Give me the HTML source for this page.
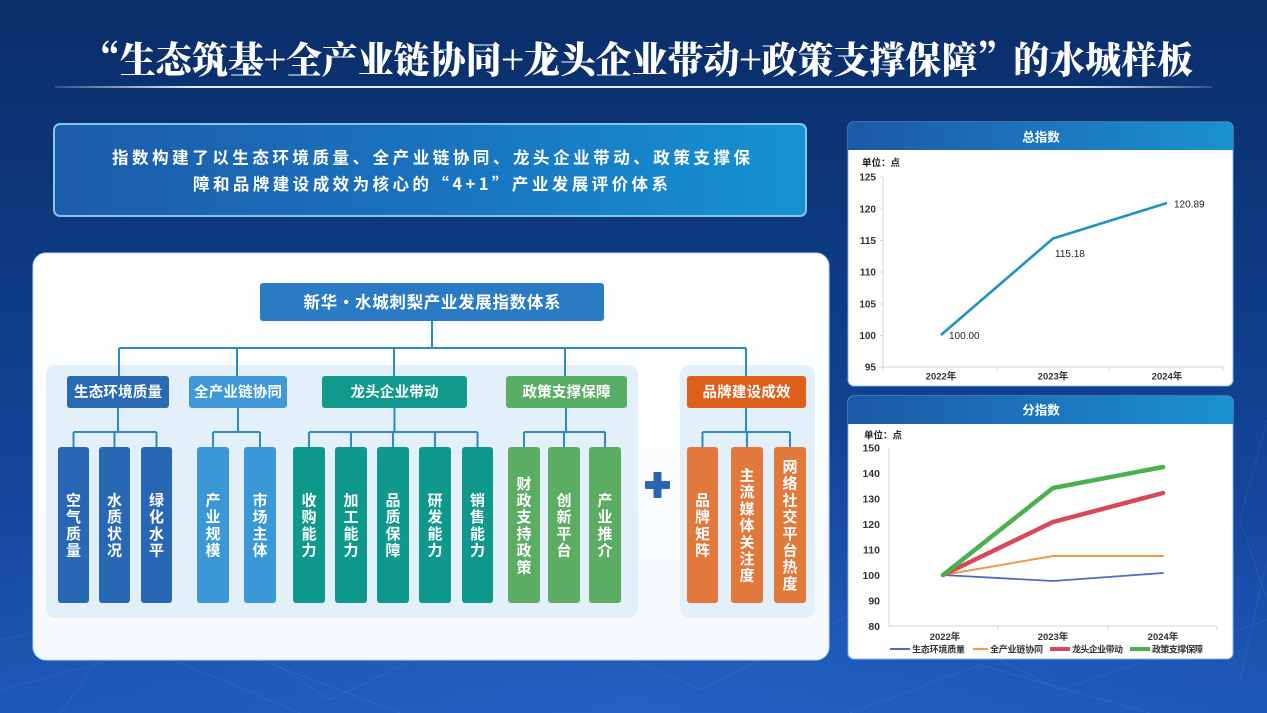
<!DOCTYPE html>
<html><head><meta charset="utf-8">
<style>
html,body{margin:0;padding:0;width:1267px;height:713px;overflow:hidden;background:#0c2f6c;}
svg{display:block;}
.sans{font-family:"Liberation Sans","Noto Sans CJK SC",sans-serif;}
.cjk{font-family:"Noto Sans CJK SC","Liberation Sans",sans-serif;}
.serif{font-family:"Noto Serif CJK SC","Liberation Serif",serif;}
</style></head>
<body>
<svg width="1267" height="713" viewBox="0 0 1267 713" xmlns="http://www.w3.org/2000/svg">
<defs>
<linearGradient id="bg" x1="0" y1="0" x2="0" y2="1">
<stop offset="0" stop-color="#0b2d68"/>
<stop offset="0.35" stop-color="#0d3a80"/>
<stop offset="0.75" stop-color="#1547a0"/>
<stop offset="1" stop-color="#1c55b2"/>
</linearGradient>
<radialGradient id="glow" cx="0.5" cy="1" r="0.7">
<stop offset="0" stop-color="#2a6ad0" stop-opacity="0.55"/>
<stop offset="1" stop-color="#2a6ad0" stop-opacity="0"/>
</radialGradient>
<linearGradient id="uline" x1="0" y1="0" x2="1" y2="0">
<stop offset="0" stop-color="#ffffff" stop-opacity="0.15"/>
<stop offset="0.12" stop-color="#e3f0ff" stop-opacity="1"/>
<stop offset="0.88" stop-color="#e3f0ff" stop-opacity="1"/>
<stop offset="1" stop-color="#ffffff" stop-opacity="0.15"/>
</linearGradient>
<linearGradient id="desc" x1="0" y1="0" x2="1" y2="0">
<stop offset="0" stop-color="#1d5cab"/>
<stop offset="0.5" stop-color="#1a72be"/>
<stop offset="1" stop-color="#1592d1"/>
</linearGradient>
<linearGradient id="hdr" x1="0" y1="0" x2="1" y2="0">
<stop offset="0" stop-color="#1c58a6"/>
<stop offset="1" stop-color="#1b92cf"/>
</linearGradient>
<linearGradient id="panel" x1="0" y1="0" x2="0" y2="1">
<stop offset="0" stop-color="#ffffff"/>
<stop offset="1" stop-color="#f6fafe"/>
</linearGradient>
</defs>

<!-- background -->
<rect x="0" y="0" width="1267" height="713" fill="url(#bg)"/>
<rect x="0" y="300" width="1267" height="413" fill="url(#glow)"/>
<g stroke="#8fc0ff" stroke-opacity="0.12" stroke-width="1" fill="none">
<path d="M0 640 L180 600 L330 700 L520 610 L700 690 L880 600 L1060 690 L1267 620"/>
<path d="M0 690 L150 650 L300 713"/>
<path d="M1267 420 L1240 520 L1267 600"/>
<path d="M60 713 L120 630 L260 660 L400 713"/>
<path d="M850 713 L980 665 L1150 713"/>
<path d="M1240 680 L1267 560"/>
</g>

<!-- title -->
<text class="serif" x="84" y="73" font-size="37" font-weight="900" fill="#ffffff" textLength="1109" lengthAdjust="spacingAndGlyphs">“生态筑基+全产业链协同+龙头企业带动+政策支撑保障”的水城样板</text>
<rect x="55" y="86" width="1157" height="2" fill="url(#uline)"/>

<!-- description box -->
<rect x="54" y="124" width="752" height="92" rx="6" fill="url(#desc)" stroke="#86c4f0" stroke-width="2"/>
<text class="cjk" x="112" y="163.5" font-size="16.5" font-weight="bold" fill="#ffffff" textLength="638" lengthAdjust="spacing">指数构建了以生态环境质量、全产业链协同、龙头企业带动、政策支撑保</text>
<text class="cjk" x="193" y="190" font-size="16.5" font-weight="bold" fill="#ffffff" textLength="475" lengthAdjust="spacing">障和品牌建设成效为核心的“4+1”产业发展评价体系</text>

<!-- main white panel -->
<rect x="33" y="253" width="796" height="407" rx="13" fill="url(#panel)" stroke="#b9d8f5" stroke-width="1"/>

<!-- group backgrounds -->
<rect x="46" y="365" width="592" height="253" rx="10" fill="#e3eff9"/>
<rect x="680" y="365" width="135" height="253" rx="10" fill="#e3eff9"/>

<!-- connectors -->
<g stroke="#2b89c6" stroke-width="2" fill="none">
<path d="M432 321 V348 M119 348 H746 M119 348 V376 M237 348 V376 M394 348 V376 M565 348 V376 M746 348 V376"/>
<path d="M118 408 V432 M73.5 432 H156.5 M73.5 432 V447 M114.5 432 V447 M156.5 432 V447"/>
<path d="M238 408 V432 M213 432 H260 M213 432 V447 M260 432 V447"/>
<path d="M394.5 408 V432 M309 432 H477.5 M309 432 V447 M351 432 V447 M393 432 V447 M435 432 V447 M477.5 432 V447"/>
<path d="M566 408 V432 M524 432 H605 M524 432 V447 M564 432 V447 M605 432 V447"/>
<path d="M746 408 V432 M702.5 432 H790 M702.5 432 V447 M747 432 V447 M790 432 V447"/>
</g>

<!-- root box -->
<rect x="260" y="283" width="344" height="38" rx="3" fill="#2b7bc4"/>
<text class="cjk" x="432" y="308" text-anchor="middle" font-size="16.5" font-weight="bold" fill="#ffffff" textLength="257" lengthAdjust="spacing">新华·水城刺梨产业发展指数体系</text>

<!-- category boxes -->
<g class="cjk" font-size="14.5" font-weight="bold" fill="#ffffff" text-anchor="middle">
<rect x="67" y="376" width="102" height="32" rx="3" fill="#2a69b3"/>
<text x="118" y="397" textLength="88" lengthAdjust="spacing">生态环境质量</text>
<rect x="189" y="376" width="98" height="32" rx="3" fill="#3f98d8"/>
<text x="238" y="397" textLength="88" lengthAdjust="spacing">全产业链协同</text>
<rect x="322" y="376" width="145" height="32" rx="3" fill="#11998c"/>
<text x="394.5" y="397" textLength="88" lengthAdjust="spacing">龙头企业带动</text>
<rect x="506" y="376" width="121" height="32" rx="3" fill="#5aad64"/>
<text x="566.5" y="397" textLength="88" lengthAdjust="spacing">政策支撑保障</text>
<rect x="687" y="376" width="119" height="32" rx="3" fill="#de5e1c"/>
<text x="746.5" y="397" textLength="88" lengthAdjust="spacing">品牌建设成效</text>
</g>

<!-- sub boxes -->
<g>
<rect x="58" y="447" width="31" height="156" rx="3" fill="#2867b4"/>
<rect x="99" y="447" width="31" height="156" rx="3" fill="#2867b4"/>
<rect x="141" y="447" width="31" height="156" rx="3" fill="#2867b4"/>
<rect x="197" y="447" width="32" height="156" rx="3" fill="#3b98d6"/>
<rect x="244" y="447" width="32" height="156" rx="3" fill="#3b98d6"/>
<rect x="293" y="447" width="32" height="156" rx="3" fill="#0e998c"/>
<rect x="335" y="447" width="32" height="156" rx="3" fill="#0e998c"/>
<rect x="377" y="447" width="32" height="156" rx="3" fill="#0e998c"/>
<rect x="419" y="447" width="32" height="156" rx="3" fill="#0e998c"/>
<rect x="462" y="447" width="31" height="156" rx="3" fill="#0e998c"/>
<rect x="508" y="447" width="32" height="156" rx="3" fill="#5cad63"/>
<rect x="548" y="447" width="32" height="156" rx="3" fill="#5cad63"/>
<rect x="589" y="447" width="32" height="156" rx="3" fill="#5cad63"/>
<rect x="687" y="447" width="31" height="156" rx="3" fill="#e2783c"/>
<rect x="731" y="447" width="32" height="156" rx="3" fill="#e2783c"/>
<rect x="774" y="447" width="32" height="156" rx="3" fill="#e2783c"/>
</g>
<g class="cjk" font-size="15" font-weight="bold" fill="#ffffff" text-anchor="middle">
<text x="73.5" y="505.5"><tspan x="73.5">空</tspan><tspan x="73.5" dy="16.7">气</tspan><tspan x="73.5" dy="16.7">质</tspan><tspan x="73.5" dy="16.7">量</tspan></text>
<text x="114.5" y="505.5"><tspan x="114.5">水</tspan><tspan x="114.5" dy="16.7">质</tspan><tspan x="114.5" dy="16.7">状</tspan><tspan x="114.5" dy="16.7">况</tspan></text>
<text x="156.5" y="505.5"><tspan x="156.5">绿</tspan><tspan x="156.5" dy="16.7">化</tspan><tspan x="156.5" dy="16.7">水</tspan><tspan x="156.5" dy="16.7">平</tspan></text>
<text x="213" y="505.5"><tspan x="213">产</tspan><tspan x="213" dy="16.7">业</tspan><tspan x="213" dy="16.7">规</tspan><tspan x="213" dy="16.7">模</tspan></text>
<text x="260" y="505.5"><tspan x="260">市</tspan><tspan x="260" dy="16.7">场</tspan><tspan x="260" dy="16.7">主</tspan><tspan x="260" dy="16.7">体</tspan></text>
<text x="309" y="505.5"><tspan x="309">收</tspan><tspan x="309" dy="16.7">购</tspan><tspan x="309" dy="16.7">能</tspan><tspan x="309" dy="16.7">力</tspan></text>
<text x="351" y="505.5"><tspan x="351">加</tspan><tspan x="351" dy="16.7">工</tspan><tspan x="351" dy="16.7">能</tspan><tspan x="351" dy="16.7">力</tspan></text>
<text x="393" y="505.5"><tspan x="393">品</tspan><tspan x="393" dy="16.7">质</tspan><tspan x="393" dy="16.7">保</tspan><tspan x="393" dy="16.7">障</tspan></text>
<text x="435" y="505.5"><tspan x="435">研</tspan><tspan x="435" dy="16.7">发</tspan><tspan x="435" dy="16.7">能</tspan><tspan x="435" dy="16.7">力</tspan></text>
<text x="477.5" y="505.5"><tspan x="477.5">销</tspan><tspan x="477.5" dy="16.7">售</tspan><tspan x="477.5" dy="16.7">能</tspan><tspan x="477.5" dy="16.7">力</tspan></text>
<text x="524" y="488.8"><tspan x="524">财</tspan><tspan x="524" dy="16.7">政</tspan><tspan x="524" dy="16.7">支</tspan><tspan x="524" dy="16.7">持</tspan><tspan x="524" dy="16.7">政</tspan><tspan x="524" dy="16.7">策</tspan></text>
<text x="564" y="505.5"><tspan x="564">创</tspan><tspan x="564" dy="16.7">新</tspan><tspan x="564" dy="16.7">平</tspan><tspan x="564" dy="16.7">台</tspan></text>
<text x="605" y="505.5"><tspan x="605">产</tspan><tspan x="605" dy="16.7">业</tspan><tspan x="605" dy="16.7">推</tspan><tspan x="605" dy="16.7">介</tspan></text>
<text x="702.5" y="505.5"><tspan x="702.5">品</tspan><tspan x="702.5" dy="16.7">牌</tspan><tspan x="702.5" dy="16.7">矩</tspan><tspan x="702.5" dy="16.7">阵</tspan></text>
<text x="747" y="480.5"><tspan x="747">主</tspan><tspan x="747" dy="16.7">流</tspan><tspan x="747" dy="16.7">媒</tspan><tspan x="747" dy="16.7">体</tspan><tspan x="747" dy="16.7">关</tspan><tspan x="747" dy="16.7">注</tspan><tspan x="747" dy="16.7">度</tspan></text>
<text x="790" y="472"><tspan x="790">网</tspan><tspan x="790" dy="16.7">络</tspan><tspan x="790" dy="16.7">社</tspan><tspan x="790" dy="16.7">交</tspan><tspan x="790" dy="16.7">平</tspan><tspan x="790" dy="16.7">台</tspan><tspan x="790" dy="16.7">热</tspan><tspan x="790" dy="16.7">度</tspan></text>
</g>

<!-- plus -->
<rect x="645" y="481" width="25" height="8" rx="1" fill="#2a64b4"/>
<rect x="653.5" y="472" width="8" height="26" rx="1" fill="#2a64b4"/>

<!-- ================= chart 1 ================= -->
<rect x="848" y="122" width="385" height="264" rx="6" fill="#ffffff" stroke="#7fb8ec" stroke-opacity="0.6" stroke-width="1.5"/>
<path d="M848 128 a6 6 0 0 1 6 -6 H1227 a6 6 0 0 1 6 6 V150 H848 Z" fill="url(#hdr)"/>
<text class="cjk" x="1041" y="141.5" text-anchor="middle" font-size="12.5" font-weight="bold" fill="#ffffff">总指数</text>
<text class="cjk" x="862" y="166" font-size="9.5" font-weight="bold" fill="#222">单位：点</text>
<g stroke="#d4d4d4" stroke-width="1" fill="none">
<path d="M883 177 V367 H1223"/>
<path d="M880 177 H883 M880 209 H883 M880 240.5 H883 M880 272 H883 M880 304 H883 M880 335.5 H883 M880 367 H883"/>
<path d="M883 367 V371 M997 367 V371 M1109 367 V371 M1223 367 V371"/>
</g>
<g class="sans" font-size="10" font-weight="bold" fill="#333" text-anchor="end">
<text x="876" y="180.5">125</text>
<text x="876" y="212.5">120</text>
<text x="876" y="244">115</text>
<text x="876" y="275.5">110</text>
<text x="876" y="307.5">105</text>
<text x="876" y="339">100</text>
<text x="876" y="370.5">95</text>
</g>
<g class="sans" font-size="9.5" font-weight="bold" fill="#333" text-anchor="middle">
<text x="941" y="379.5">2022年</text>
<text x="1053" y="379.5">2023年</text>
<text x="1167" y="379.5">2024年</text>
</g>
<polyline points="941,335 1053,238.5 1167,203" fill="none" stroke="#1f93c3" stroke-width="2.6" stroke-linejoin="round"/>
<g class="sans" font-size="10" fill="#222">
<text x="949" y="339">100.00</text>
<text x="1055" y="257">115.18</text>
<text x="1174" y="207.5">120.89</text>
</g>

<!-- ================= chart 2 ================= -->
<rect x="848" y="396" width="385" height="263" rx="6" fill="#ffffff" stroke="#7fb8ec" stroke-opacity="0.6" stroke-width="1.5"/>
<path d="M848 402 a6 6 0 0 1 6 -6 H1227 a6 6 0 0 1 6 6 V424 H848 Z" fill="url(#hdr)"/>
<text class="cjk" x="1041" y="414.5" text-anchor="middle" font-size="12.5" font-weight="bold" fill="#ffffff">分指数</text>
<text class="cjk" x="864" y="438.5" font-size="9.5" font-weight="bold" fill="#222">单位：点</text>
<g stroke="#d4d4d4" stroke-width="1" fill="none">
<path d="M889 448 V626 H1217"/>
<path d="M998 626 V630 M1108 626 V630 M1217 626 V630"/>
</g>
<g class="sans" font-size="10.5" font-weight="bold" fill="#333" text-anchor="end">
<text x="880" y="451.5">150</text>
<text x="880" y="477">140</text>
<text x="880" y="502.5">130</text>
<text x="880" y="528">120</text>
<text x="880" y="553.5">110</text>
<text x="880" y="579">100</text>
<text x="880" y="604.5">90</text>
<text x="880" y="630">80</text>
</g>
<g class="sans" font-size="9.5" font-weight="bold" fill="#333" text-anchor="middle">
<text x="945" y="640">2022年</text>
<text x="1053" y="640">2023年</text>
<text x="1163" y="640">2024年</text>
</g>
<g fill="none" stroke-linejoin="round" stroke-linecap="round">
<polyline points="943,575 1053,581 1163,573" stroke="#4a6fbe" stroke-width="1.8"/>
<polyline points="943,575 1053,556 1163,556" stroke="#ef9a45" stroke-width="2"/>
<polyline points="943,575 1053,522 1163,493" stroke="#d9485a" stroke-width="4.5"/>
<polyline points="943,575 1053,488 1163,467" stroke="#4caf50" stroke-width="4.5"/>
</g>
<!-- legend -->
<g stroke-linecap="butt">
<line x1="890" y1="649" x2="910" y2="649" stroke="#4a6fbe" stroke-width="2"/>
<line x1="973" y1="649" x2="988" y2="649" stroke="#ef9a45" stroke-width="2"/>
<line x1="1050" y1="649" x2="1070" y2="649" stroke="#d9485a" stroke-width="4"/>
<line x1="1130" y1="649" x2="1150" y2="649" stroke="#4caf50" stroke-width="4"/>
</g>
<g class="cjk" font-size="9" font-weight="bold" fill="#333">
<text x="912" y="652.3" textLength="53" lengthAdjust="spacing">生态环境质量</text>
<text x="990" y="652.3" textLength="53" lengthAdjust="spacing">全产业链协同</text>
<text x="1072" y="652.3" textLength="51" lengthAdjust="spacing">龙头企业带动</text>
<text x="1152" y="652.3" textLength="51" lengthAdjust="spacing">政策支撑保障</text>
</g>
</svg>
</body></html>
